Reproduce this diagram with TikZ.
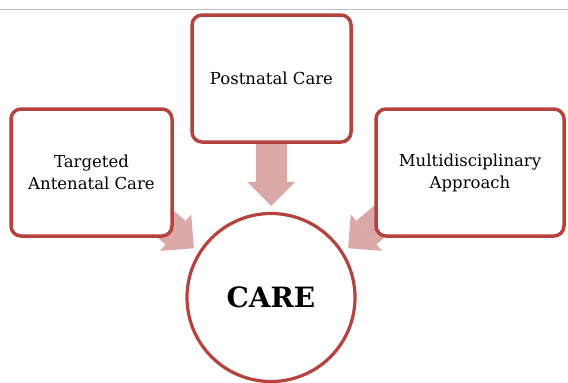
\documentclass[tikz,border=0pt]{standalone}
\usepackage{fontspec}
\setmainfont{DejaVu Serif}
\usetikzlibrary{arrows.meta, backgrounds}

\definecolor{boxred}{RGB}{181,66,61}
\definecolor{arrowpink}{RGB}{219,168,168}

\begin{document}
\begin{tikzpicture}[x=1pt, y=-1pt,
        box/.style={draw=boxred, line width=3.5pt, rounded corners=10pt, fill=white,
            minimum height=127pt, align=center, font=\fontsize{16.5}{22}\selectfont},
        flow/.style={arrowpink, line width=31pt,
            -{Triangle[width=48pt, length=24pt, line width=0pt]}, shorten >=6pt}]
    \useasboundingbox (0,0) rectangle (568,383);
    \draw[gray!50, line width=1pt] (0,9.5) -- (568,9.5);

    % the three boxes and the circle they point at
    \node[box, minimum width=159pt] (PC) at (271.5,78.5) {Postnatal Care};
    \node[box, minimum width=161pt] (TAC) at (91.5,172.5) {Targeted\\Antenatal Care};
    \node[box, minimum width=188pt] (MA) at (470,172.5) {Multidisciplinary\\Approach};
    \node[circle, draw=boxred, line width=3.2pt, fill=white, minimum size=168pt,
        font=\bfseries\fontsize{28}{28}\selectfont] (CARE) at (271,297.5) {CARE};

    % block arrows sit behind the boxes
    \coordinate (TACin) at (141,203);
    \coordinate (MAin) at (401,203);
    \begin{pgfonlayer}{background}
        \draw[flow] (PC) -- (CARE);
        \draw[flow] (TACin) -- (CARE.148);
        \draw[flow] (MAin) -- (CARE.32);
    \end{pgfonlayer}
\end{tikzpicture}
\end{document}
